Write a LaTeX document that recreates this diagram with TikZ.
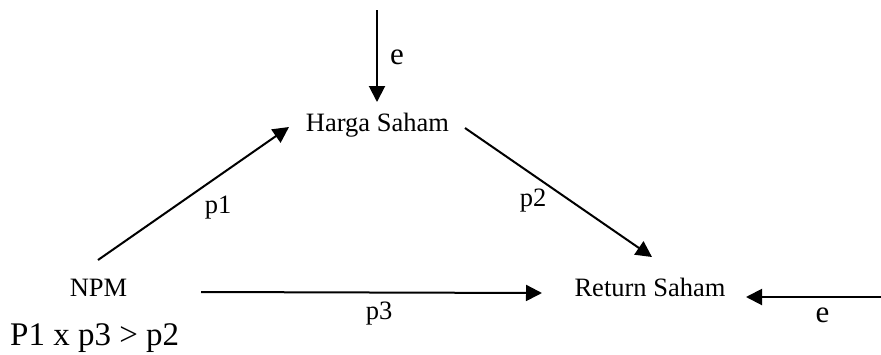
\documentclass[tikz,border=0pt]{standalone}
\usepackage{fontspec}
\setmainfont{Liberation Serif}
\usetikzlibrary{arrows.meta}
\begin{document}
\begin{tikzpicture}[x=1pt,y=-1pt,
  lbl/.style={inner sep=0pt,anchor=base,font=\fontsize{26.5}{30}\selectfont},
  big/.style={inner sep=0pt,anchor=base,font=\fontsize{31}{36}\selectfont},
  arr/.style={line width=2pt,-{Triangle[length=16pt,width=16pt]}}]
\useasboundingbox (0,0) rectangle (881,354);
% text nodes
\node[lbl] (harga) at (377.5,131) {Harga Saham};
\node[lbl] (npm) at (98.5,296) {NPM};
\node[lbl] (ret) at (650,296) {Return Saham};
\node[lbl] (lp1) at (218,213) {p1};
\node[lbl] (lp2) at (533,206) {p2};
\node[lbl] (lp3) at (379,319) {p3};
\node[big] (e1) at (397,64) {e};
\node[big] (e2) at (822.5,322) {e};
\node[big,anchor=base west,font=\fontsize{33}{38}\selectfont] (eq) at (10,345) {P1 x p3 {>} p2};
% connector ends
\coordinate (topS) at (377,10);
\coordinate (topE) at (377,102);
\coordinate (p1S) at (98,260);
\coordinate (p1E) at (289,127);
\coordinate (p2S) at (465,128);
\coordinate (p2E) at (652,257);
\coordinate (p3S) at (201,292);
\coordinate (p3E) at (542,293);
\coordinate (rS) at (881,297);
\coordinate (rE) at (746,297);
% connectors
\draw[arr] (topS) -- (topE);
\draw[arr] (p1S) -- (p1E);
\draw[arr] (p2S) -- (p2E);
\draw[arr] (p3S) -- (p3E);
\draw[arr] (rS) -- (rE);
\end{tikzpicture}
\end{document}
